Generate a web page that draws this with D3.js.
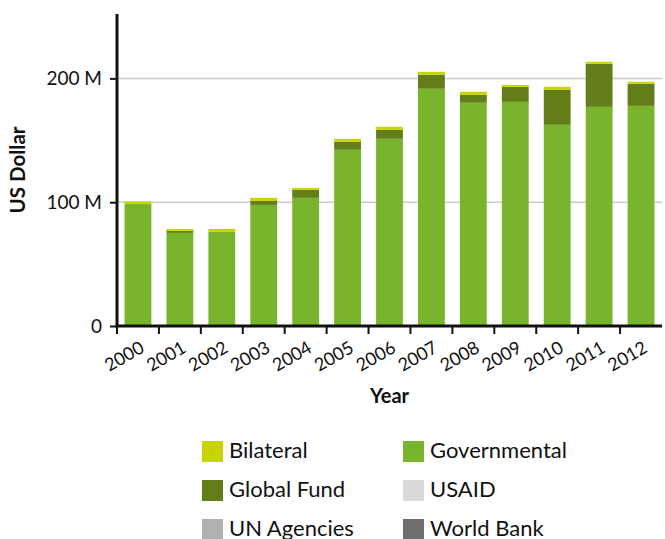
<!DOCTYPE html>
<html><head><meta charset="utf-8">
<script src="https://cdn.jsdelivr.net/npm/d3@7"></script>
<style>
body{margin:0;background:#fff;}
text{font-family:Lato,"Open Sans",sans-serif;fill:#111;}
</style></head>
<body><svg id="c" width="665" height="539"></svg>
<script>
const years = ["2000","2001","2002","2003","2004","2005","2006","2007","2008","2009","2010","2011","2012"];
const governmental = [98.5,75.2,76,97.8,103.5,142.3,151.2,191.6,180.3,181,162.5,177,177.8];
const globalFund   = [0,1.6,0,3.2,6.5,6.4,7.2,11.3,6.4,12.1,28.3,34.8,17.8];
const bilateral    = [2.1,1.6,2.4,2.5,1.6,2.5,2.5,2.4,2.5,1.6,2.4,1.6,1.7];
const usaid        = [0,0,0,0,0,0,0,0,0,0,0,0,0];
const unAgencies   = [0,0,0,0,0,0,0,0,0,0,0,0,0];
const worldBank    = [0,0,0,0,0,0,0,0,0,0,0,0,0];
const seriesNames  = ["Governmental","Global Fund","Bilateral","USAID","UN Agencies","World Bank"];
const seriesColors = {"Governmental":"#78b52c","Global Fund":"#637e18","Bilateral":"#c8d400","USAID":"#d9d9d9","UN Agencies":"#b0b0b0","World Bank":"#6e6e6e"};
const legendOrder  = ["Bilateral","Governmental","Global Fund","USAID","UN Agencies","World Bank"];
const yTicks = [0,100,200];

(function(){
const seriesVals = {"Governmental":governmental,"Global Fund":globalFund,"Bilateral":bilateral,"USAID":usaid,"UN Agencies":unAgencies,"World Bank":worldBank};
const table = years.map((y,i)=>{const o={year:y}; seriesNames.forEach(s=>o[s]=seriesVals[s][i]); return o;});

const svg = d3.select("#c");
const mLeft=117, mRight=662, mTop=14, mBottom=326;
const x = d3.scaleBand().domain(years).range([mLeft,mRight]).paddingInner(0.36).paddingOuter(0.18);
const y = d3.scaleLinear().domain([0,252]).range([mBottom,mTop]);

svg.append("g").selectAll("line").data(yTicks.filter(d=>d>0)).join("line")
  .attr("x1",mLeft).attr("x2",mRight).attr("y1",d=>y(d)).attr("y2",d=>y(d))
  .attr("stroke","#cccccc").attr("stroke-width",1.5);

const stack = d3.stack().keys(seriesNames)(table);
svg.append("g").selectAll("g").data(stack).join("g")
  .attr("fill",d=>seriesColors[d.key])
  .selectAll("rect").data(d=>d).join("rect")
  .attr("x",d=>x(d.data.year)).attr("width",x.bandwidth())
  .attr("y",d=>y(d[1])).attr("height",d=>Math.max(0,y(d[0])-y(d[1])));

const ya = svg.append("g").attr("transform",`translate(${mLeft},0)`)
  .call(d3.axisLeft(y).tickValues(yTicks).tickSize(7).tickFormat(d=>d===0?"0":d+" M"));
ya.select(".domain").remove();
ya.selectAll(".tick line").attr("stroke","#111").attr("stroke-width",2);
ya.selectAll(".tick text").attr("font-size",19).attr("x",-15).style("font-family","Lato,sans-serif").attr("fill","#111");
svg.append("line").attr("x1",mLeft).attr("x2",mLeft).attr("y1",mTop).attr("y2",mBottom+1).attr("stroke","#111").attr("stroke-width",3);

const step = x.step();
const tickPos = years.map(d=>x(d)-step*x.paddingInner()/2);
svg.append("g").selectAll("line").data(tickPos).join("line")
  .attr("x1",d=>d).attr("x2",d=>d).attr("y1",mBottom).attr("y2",mBottom+8)
  .attr("stroke","#111").attr("stroke-width",2);
svg.append("line").attr("x1",mLeft-1.5).attr("x2",mRight).attr("y1",mBottom).attr("y2",mBottom).attr("stroke","#111").attr("stroke-width",3);
svg.append("g").selectAll("text").data(years).join("text")
  .attr("transform",d=>`translate(${x(d)+x.bandwidth()/2+1},${mBottom+14}) rotate(-30)`)
  .attr("text-anchor","end").attr("dy","0.72em").attr("font-size",18).text(d=>d);

svg.append("text").attr("x",(mLeft+mRight)/2).attr("y",403).attr("text-anchor","middle")
  .attr("font-size",20).attr("font-weight","bold").text("Year");
svg.append("text").attr("transform",`translate(25,${(mTop+mBottom)/2}) rotate(-90)`).attr("text-anchor","middle")
  .attr("font-size",20.5).attr("font-weight","bold").text("US Dollar");

const lg = svg.append("g");
legendOrder.forEach((s,i)=>{
  const col=i%2, row=Math.floor(i/2);
  const gx = col===0?202:403, gy = 441+row*39;
  lg.append("rect").attr("x",gx).attr("y",gy).attr("width",21).attr("height",21).attr("fill",seriesColors[s]);
  lg.append("text").attr("x",gx+27).attr("y",gy+17).attr("font-size",22).text(s);
});
})();
</script></body></html>
